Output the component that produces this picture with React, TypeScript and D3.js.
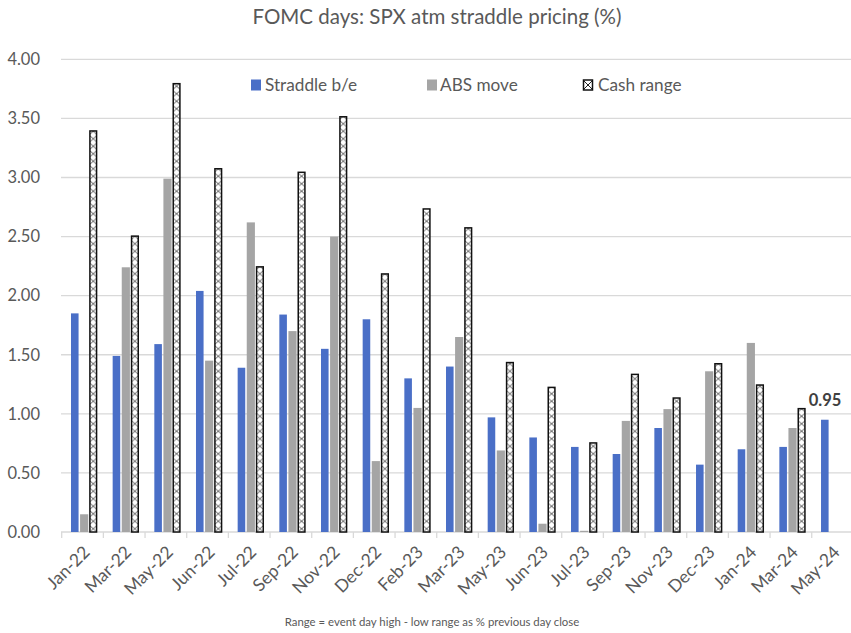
import React from "react";
import * as d3 from "d3";

const categories = ["Jan-22","Mar-22","May-22","Jun-22","Jul-22","Sep-22","Nov-22","Dec-22","Feb-23","Mar-23","May-23","Jun-23","Jul-23","Sep-23","Nov-23","Dec-23","Jan-24","Mar-24","May-24"];
const straddle = [1.85,1.49,1.59,2.04,1.39,1.84,1.55,1.80,1.30,1.40,0.97,0.80,0.72,0.66,0.88,0.57,0.70,0.72,0.95];
const absMove: (number|null)[] = [0.15,2.24,2.99,1.45,2.62,1.70,2.50,0.60,1.05,1.65,0.69,0.07,0.01,0.94,1.04,1.36,1.60,0.88,null];
const cashRange: (number|null)[] = [3.40,2.51,3.80,3.08,2.25,3.05,3.52,2.19,2.74,2.58,1.44,1.23,0.76,1.34,1.14,1.43,1.25,1.05,null];
const yTicks = [0,0.5,1,1.5,2,2.5,3,3.5,4];
const seriesNames = ["Straddle b/e","ABS move","Cash range"];

const W = 851, H = 633;
const FONT = "Lato, 'Open Sans', sans-serif";
const TXT = "#595959";
const BLUE = "#4A6FC7";
const GRAY = "#A5A5A5";

export default function App() {
  const x0 = d3.scaleBand<string>().domain(categories).range([61.7, 853.4]).padding(0);
  const bw = x0.bandwidth();
  const x1 = d3.scaleBand<string>().domain(seriesNames).range([bw * 0.223, bw * 0.855]).paddingInner(0.1);
  const y = d3.scaleLinear().domain([0, 4]).range([532, 59.3]);

  return (
    <svg width={W} height={H} style={{ display: "block", position: "absolute", left: 0, top: 0 }} fontFamily={FONT}>
      <defs>
        {categories.map((c, i) => (
          <pattern key={c} id={`hatch${i}`} patternUnits="userSpaceOnUse" x={(x0(c) ?? 0) + (x1("Cash range") ?? 0)} y={0} width={x1.bandwidth()} height={7.5}>
            <rect width={x1.bandwidth()} height={7.5} fill="#fff" />
            <path d={`M0,0 L${x1.bandwidth()},7.5 M${x1.bandwidth()},0 L0,7.5`} stroke="#333" strokeWidth={0.8} />
          </pattern>
        ))}
        <pattern id="hatchLeg" patternUnits="userSpaceOnUse" x={583} y={80} width={10} height={10}>
          <rect width={10} height={10} fill="#fff" />
          <path d="M0,0 L10,10 M10,0 L0,10" stroke="#222" strokeWidth={1} />
        </pattern>
      </defs>
      <rect width={W} height={H} fill="#fff" />
      <text x={437} y={24} textAnchor="middle" fontSize={20.5} fill={TXT}>FOMC days: SPX atm straddle pricing (%)</text>

      {yTicks.map(t => (
        <g key={t}>
          <line x1={61} x2={W} y1={y(t)} y2={y(t)} stroke="#D9D9D9" strokeWidth={1.3} />
          <text x={40} y={y(t)} dy="0.35em" textAnchor="end" fontSize={16.5} fill={TXT}>{t.toFixed(2)}</text>
        </g>
      ))}
      {categories.map(c => (
        <line key={c} x1={x0(c)} x2={x0(c)} y1={y(0)} y2={y(0) + 6} stroke="#D9D9D9" strokeWidth={1.3} />
      ))}

      {categories.map((c, i) => {
        const bx = x0(c) ?? 0;
        const w = x1.bandwidth();
        const a = absMove[i];
        const cr = cashRange[i];
        return (
          <g key={c}>
            <rect x={bx + (x1("Straddle b/e") ?? 0)} y={y(straddle[i])} width={w - 0.6} height={y(0) - y(straddle[i])} fill={BLUE} />
            {a != null && <rect x={bx + (x1("ABS move") ?? 0)} y={y(a)} width={w} height={y(0) - y(a)} fill={GRAY} />}
            {cr != null && <rect x={bx + (x1("Cash range") ?? 0) + 0.75} y={y(cr) + 0.75} width={w - 1.5} height={y(0) - y(cr) - 0.75} fill={`url(#hatch${i})`} stroke="#111" strokeWidth={1.5} />}
          </g>
        );
      })}

      <text x={(x0("May-24") ?? 0) + (x1("Straddle b/e") ?? 0) + x1.bandwidth() / 2} y={y(straddle[18]) - 14} textAnchor="middle" fontSize={16.5} fontWeight={700} fill="#404040">{straddle[18].toFixed(2)}</text>

      {categories.map(c => {
        const cx = (x0(c) ?? 0) + bw / 2 + 4;
        const cy = 549;
        return (
          <text key={c} transform={`translate(${cx},${cy}) rotate(-45)`} textAnchor="end" dy="0.35em" fontSize={17.5} fill={TXT}>{c}</text>
        );
      })}

      <g fontSize={17.2} fill={TXT}>
        <rect x={251} y={79.5} width={10} height={11} fill={BLUE} />
        <text x={265} y={91}>Straddle b/e</text>
        <rect x={427} y={79.5} width={10} height={11} fill={GRAY} />
        <text x={440} y={91}>ABS move</text>
        <rect x={583.5} y={80} width={9} height={10} fill="url(#hatchLeg)" stroke="#111" strokeWidth={1.5} />
        <text x={598} y={91}>Cash range</text>
      </g>

      <text x={432} y={626} textAnchor="middle" fontSize={11.4} fill={TXT}>Range = event day high - low range as % previous day close</text>
    </svg>
  );
}
